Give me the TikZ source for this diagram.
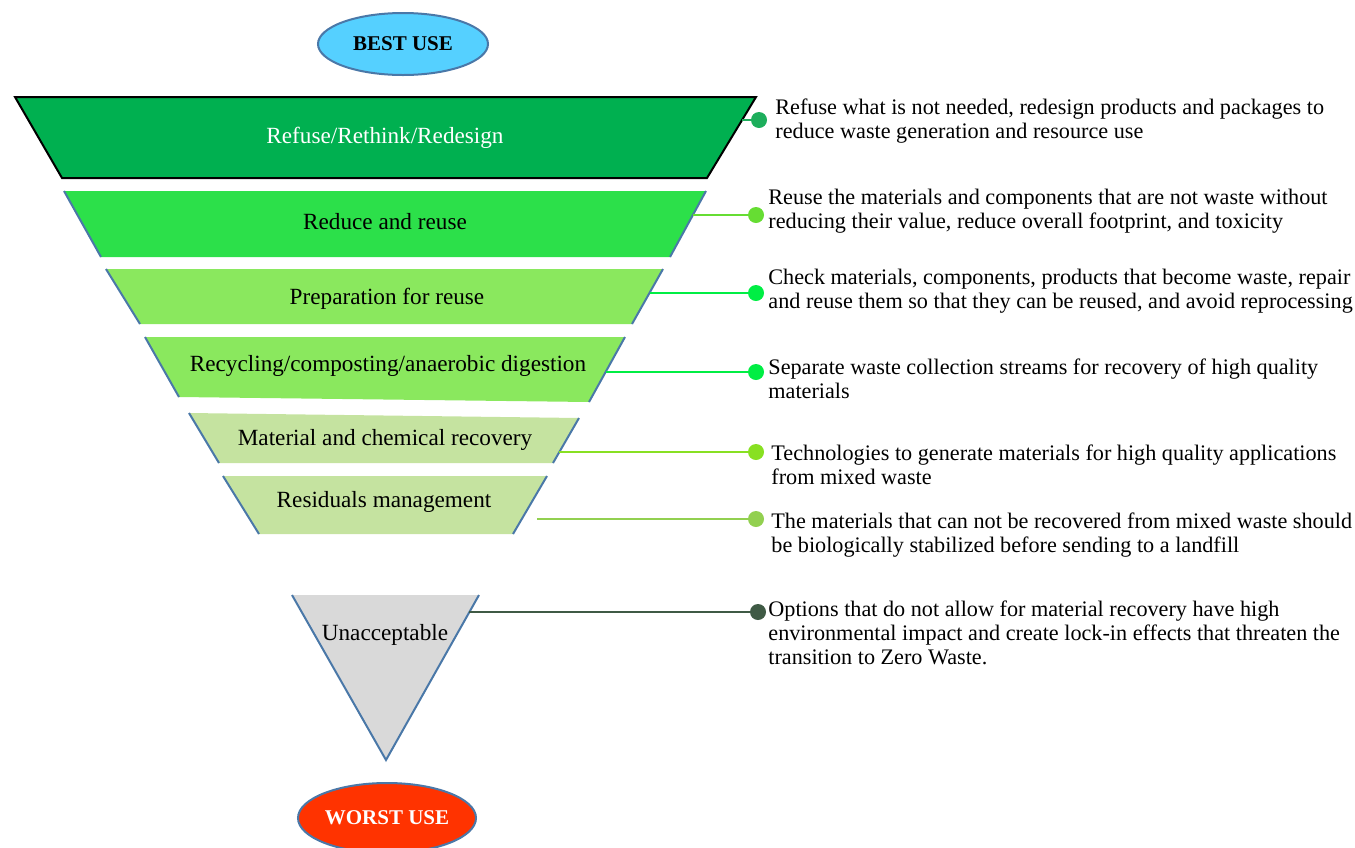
\documentclass[tikz,border=0pt]{standalone}
\usepackage{fontspec}
\setmainfont{Liberation Serif}
\usetikzlibrary{shapes.geometric}

\definecolor{tierA}{HTML}{00B050}
\definecolor{tierB}{HTML}{2CE04A}
\definecolor{tierC}{HTML}{8AE85E}
\definecolor{tierD}{HTML}{C5E3A0}
\definecolor{unacc}{HTML}{D9D9D9}
\definecolor{edgeblue}{HTML}{4A78A8}
\definecolor{bestblue}{HTML}{55D0FF}
\definecolor{worstred}{HTML}{FF3300}
\definecolor{dotA}{HTML}{1DAE5C}
\definecolor{dotB}{HTML}{66DD33}
\definecolor{dotC}{HTML}{00EE44}
\definecolor{dotD}{HTML}{88E022}
\definecolor{dotE}{HTML}{92D050}
\definecolor{dotF}{HTML}{3F5A45}

\begin{document}
\begin{tikzpicture}[x=0.5pt,y=-0.5pt,
		tier/.style={font=\fontsize{11.6}{13}\selectfont},
		edge/.style={draw=edgeblue,line width=1pt},
		dot/.style={circle,inner sep=0pt,minimum size=8pt},
		link/.style={line width=1pt},
		desc/.style={anchor=west,align=left,inner sep=0pt,font=\fontsize{11.1}{12}\selectfont},
		ends/.style={ellipse,draw=edgeblue,line width=1pt,inner sep=0pt,font=\fontsize{10.5}{12}\selectfont\bfseries}]
		\useasboundingbox (0,0) rectangle (1355,847);
		
		\node[ends,fill=bestblue,minimum width=85pt,minimum height=31pt] (best) at (403,44) {BEST USE};
		
		% the funnel
		\draw[fill=tierA,draw=black,line width=1pt] (15,97) -- (756,97) -- (707,178) -- (62,178) -- cycle;
		\fill[tierB] (64,191) -- (706,191) -- (670,257) -- (101,257) -- cycle;
		\draw[edge] (64,191) -- (101,257) (706,191) -- (670,257);
		\fill[tierC] (106,269) -- (663,269) -- (632,324) -- (140,324) -- cycle;
		\draw[edge] (106,269) -- (140,324) (663,269) -- (632,324);
		\fill[tierC] (145,337) -- (625,337) -- (589,402) -- (179,397) -- cycle;
		\draw[edge] (145,337) -- (179,397) (625,337) -- (589,402);
		\fill[tierD] (189,413) -- (579,418) -- (553,463) -- (219,463) -- cycle;
		\draw[edge] (189,413) -- (219,463) (579,418) -- (553,463);
		\fill[tierD] (223,476) -- (547,476) -- (513,534) -- (259,534) -- cycle;
		\draw[edge] (223,476) -- (259,534) (547,476) -- (513,534);
		\fill[unacc] (292,595) -- (479,595) -- (386,760) -- cycle;
		\draw[edge] (292,595) -- (386,760) -- (479,595);
		
		\node[tier,text=white] (refuse) at (385,138) {Refuse/Rethink/Redesign};
		\node[tier] (reduce) at (385,222) {Reduce and reuse};
		\node[tier] (prep) at (387,299) {Preparation for reuse};
		\node[tier] (recyc) at (388,366) {Recycling/composting/anaerobic digestion};
		\node[tier] (recov) at (385,440) {Material and chemical recovery};
		\node[tier] (resid) at (384,502) {Residuals management};
		\node[tier] (unacc) at (385,635) {Unacceptable};
		
		\node[ends,fill=worstred,text=white,minimum width=89pt,minimum height=35pt] (worst) at (387,818) {WORST USE};
		
		% connectors
		\coordinate (e1) at (742,120);
		\coordinate (e2) at (693,215);
		\coordinate (e3) at (650,293);
		\coordinate (e4) at (606,372);
		\coordinate (e5) at (559,452);
		\coordinate (e6) at (537,519);
		\coordinate (e7) at (469,612);
		
		\node[dot,fill=dotA] (d1) at (759,120) {};
		\node[dot,fill=dotB] (d2) at (756,215) {};
		\node[dot,fill=dotC] (d3) at (756,293) {};
		\node[dot,fill=dotC] (d4) at (756,372) {};
		\node[dot,fill=dotD] (d5) at (756,452) {};
		\node[dot,fill=dotE] (d6) at (756,519) {};
		\node[dot,fill=dotF] (d7) at (758,612) {};
		
		\draw[link,draw=dotA] (e1) -- (d1);
		\draw[link,draw=dotB] (e2) -- (d2);
		\draw[link,draw=dotC] (e3) -- (d3);
		\draw[link,draw=dotC] (e4) -- (d4);
		\draw[link,draw=dotD] (e5) -- (d5);
		\draw[link,draw=dotE] (e6) -- (d6);
		\draw[link,draw=dotF] (e7) -- (d7);
		
		\node[desc] (t1) at (775,121) {Refuse what is not needed, redesign products and packages to\\reduce waste generation and resource use};
		\node[desc] (t2) at (768,211) {Reuse the materials and components that are not waste without\\reducing their value, reduce overall footprint, and toxicity};
		\node[desc] (t3) at (768,291) {Check materials, components, products that become waste, repair\\and reuse them so that they can be reused, and avoid reprocessing};
		\node[desc] (t4) at (768,379) {Separate waste collection streams for recovery of high quality\\materials};
		\node[desc] (t5) at (771,465) {Technologies to generate materials for high quality applications\\from mixed waste};
		\node[desc] (t6) at (771,535) {The materials that can not be recovered from mixed waste should\\be biologically stabilized before sending to a landfill};
		\node[desc] (t7) at (768,633) {Options that do not allow for material recovery have high\\environmental impact and create lock-in effects that threaten the\\transition to Zero Waste.};
		
	\end{tikzpicture}
\end{document}
